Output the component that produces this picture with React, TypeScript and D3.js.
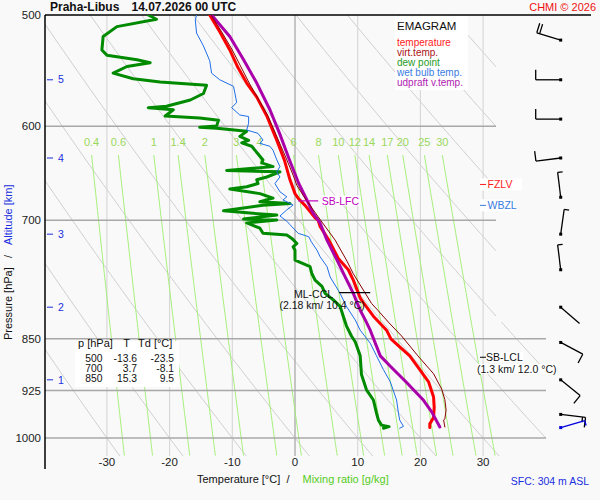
import React, { useEffect, useRef } from "react";
import * as d3 from "d3";

// ---------- data ----------
const tempP = [500, 514, 529.5, 545, 559, 572, 590, 614, 634, 655, 670, 675, 683, 690, 697, 700, 707, 723, 745, 759, 772, 795, 801, 819, 838, 850, 858, 874, 894, 912, 935, 951, 967, 977, 983];
const tempT = [-13.6, -12.0, -10.4, -9.1, -7.7, -6.1, -4.5, -2.9, -1.7, -0.8, 0.0, 0.5, 1.6, 2.4, 3.2, 3.7, 4.0, 5.4, 6.9, 8.5, 9.3, 10.4, 10.9, 12.5, 14.6, 15.3, 16.3, 18.3, 19.9, 21.3, 22.1, 22.2, 22.1, 21.5, 21.5];

const virtP = [500, 514, 529.5, 559, 590, 634, 650, 661, 672, 686, 700, 723, 747, 764, 802, 811, 828, 846, 874, 900, 923, 939, 955, 969, 971, 982];
const virtT = [-13.4, -11.7, -10.0, -7.3, -4.3, -1.3, -0.3, 0.3, 1.3, 2.7, 4.1, 6.4, 8.2, 9.3, 12.2, 13.2, 15.0, 17.0, 19.6, 22.1, 23.4, 23.9, 24.1, 23.9, 23.7, 23.9];

const parcelP = [500, 518, 538, 559, 584, 608, 632, 659, 677, 692, 703, 723, 747, 768, 789, 811, 824, 838, 874, 889, 913, 940, 958, 982];
const parcelT = [-13.3, -10.4, -8.2, -6.1, -4.0, -2.4, -1.0, 0.6, 1.9, 2.9, 4.0, 5.1, 6.7, 8.0, 9.3, 10.4, 11.2, 12.0, 13.6, 15.2, 17.8, 20.5, 21.8, 23.1];

const dewP = [500, 503.5, 509.6, 518, 529.5, 534, 538, 540.6, 544, 550, 555, 558, 561, 568.6, 574.7, 580.7, 582, 584, 590, 592, 594, 599.6, 601, 602, 605, 610, 614, 616.5, 620, 634, 637, 641, 645, 646.5, 652, 655, 659, 662.5, 665, 670, 675, 679, 681, 683, 689, 692, 694, 698.5, 699.5, 703, 709, 715, 717, 721, 727, 731, 735, 747, 755, 764, 772, 780, 789, 797.5, 806, 819, 832, 846, 854, 874, 901, 924, 939.5, 960, 971, 979, 981.5, 984];
const dewT = [-23.4, -22.1, -28.4, -30.6, -30.8, -30.0, -25.2, -23.1, -26.8, -29.0, -25.8, -21.5, -14.1, -14.6, -16.7, -20.5, -23.4, -19.4, -20.7, -15.2, -12.2, -12.5, -15.2, -12.5, -7.7, -8.8, -7.4, -8.5, -6.9, -5.1, -5.3, -3.5, -10.9, -2.4, -4.5, -6.1, -5.9, -7.7, -10.4, -5.6, -3.5, -5.6, -0.8, -5.1, -11.4, -6.7, -2.9, -8.2, -2.9, -7.7, -5.6, -5.1, -1.3, -0.5, 0.3, -0.3, 0.0, 0.0, 2.4, 2.7, 3.2, 4.3, 4.8, 6.1, 7.2, 7.7, 8.2, 9.0, 9.6, 10.4, 10.6, 11.4, 12.5, 13.0, 13.3, 13.8, 15.0, 14.1];

const wetP = [500, 504, 515, 526, 539, 550, 556, 562, 577, 582, 589, 590.5, 597, 603.7, 607, 613.7, 617, 620, 624, 634, 641, 646.5, 652, 659, 668, 673.5, 677, 682.6, 688, 695, 701, 705, 715, 719, 725, 735, 743, 755, 768, 789, 806, 824, 838, 856, 874, 894, 912, 939.5, 960, 971, 981, 984];
const wetT = [-15.7, -15.9, -15.7, -14.6, -13.6, -13.3, -12.0, -9.8, -9.3, -10.1, -8.8, -7.4, -7.4, -7.7, -5.9, -5.1, -5.6, -4.0, -3.5, -2.9, -2.4, -2.9, -2.4, -3.2, -2.4, -1.3, -1.9, -0.3, -1.3, -2.4, -1.3, -0.8, 0.5, 2.2, 2.6, 3.5, 4.0, 5.1, 5.6, 7.2, 8.2, 9.6, 10.4, 12.0, 13.0, 14.1, 15.2, 16.2, 16.5, 16.7, 17.3, 16.7];

const isobars = [500, 600, 700, 850, 925, 1000];
const isotherms = [-30, -20, -10, 0, 10, 20, 30];
const mixRatios = [0.4, 0.6, 1, 1.4, 2, 3, 4, 6, 8, 10, 12, 14, 17, 20, 25, 30];
const thetaC = [-30, -20, -10, 0, 10, 20, 30, 40, 50, 60, 70, 80, 90];
const altKm = [1, 2, 3, 4, 5];
const altP = [909, 807, 716, 632, 556];

const windP = [521, 556, 593, 632, 674, 716, 759, 807, 855, 909, 962];
const windDir = [287, 270, 270, 263, 353, 8, 353, 131, 118, 129, 97];
const windSpd = [20, 10, 10, 10, 5, 5, 5, 2, 10, 10, 15];
const sfcWindP = 983;
const sfcWindDir = 74;
const sfcWindSpd = 5;

const tableP = ["500", "700", "850"];
const tableT = ["-13.6", "3.7", "15.3"];
const tableTd = ["-23.5", "-8.1", "9.5"];

const legendNames = ["temperature", "virt.temp.", "dew point", "wet bulb temp.", "udpraft v.temp."];
const legendColors = ["#ff1a1a", "#aa1111", "#1f9a1f", "#3a7be0", "#b021b0"];

const fzlvP = 660;
const wbzlP = 683;
const lfcP = 678;
const lfcLineT = [0.5, 3.7];
const cclP = 788;
const cclLineT = [7.0, 12.0];
const lclP = 876;

const FONT = "'Liberation Sans', Arial, Helvetica, sans-serif";

export default function App() {
  const ref = useRef<SVGSVGElement>(null);

  useEffect(() => {
    const svg = d3.select(ref.current);
    svg.selectAll("*").remove();

    const x = d3.scaleLinear().domain([-40, 32]).range([44.2, 495.64]);
    const y = d3.scaleLog().domain([500, 1030]).range([15, 456.1]);
    const yBot = y(1030);

    svg.append("rect").attr("width", 600).attr("height", 500).attr("fill", "#f9f9f9");

    const defs = svg.append("defs");
    defs.append("clipPath").attr("id", "adiClip").append("polygon")
      .attr("points", `45,15 496,15 496,322 546,322 546,${yBot} 45,${yBot}`);
    defs.append("clipPath").attr("id", "plotClip").append("rect")
      .attr("x", 45).attr("y", 15).attr("width", 501).attr("height", yBot - 15);

    const txt = (
      g: any, s: string, tx: number, ty: number, size: number, color: string,
      anchor = "start", weight = "normal"
    ) =>
      g.append("text").attr("x", tx).attr("y", ty).attr("dy", "0.35em")
        .attr("font-family", FONT).attr("font-size", size).attr("fill", color)
        .attr("text-anchor", anchor).attr("font-weight", weight).text(s);

    const bgBox = (t: any, padX = 1, padY = 0) => {
      const b = (t.node() as SVGTextElement).getBBox();
      svg.insert("rect", () => t.node())
        .attr("x", b.x - padX).attr("y", b.y - padY)
        .attr("width", b.width + 2 * padX).attr("height", b.height + 2 * padY)
        .attr("fill", "#ffffff");
    };

    // ---- dry adiabats ----
    const pSteps = d3.range(500, 1031, 5);
    const line = d3.line<{ p: number; t: number }>().x((d) => x(d.t)).y((d) => y(d.p));
    const gAdi = svg.append("g").attr("clip-path", "url(#adiClip)");
    thetaC.forEach((th) => {
      const pts = pSteps.map((p) => ({ p, t: (th + 273.15) * Math.pow(p / 1000, 0.2857) - 273.15 }));
      gAdi.append("path").attr("d", line(pts)).attr("fill", "none")
        .attr("stroke", "#cfcfcf").attr("stroke-width", 1);
    });

    // ---- isotherms ----
    isotherms.forEach((t) => {
      svg.append("line").attr("x1", x(t)).attr("x2", x(t)).attr("y1", 15).attr("y2", yBot)
        .attr("stroke", t === 0 ? "#a9a9a9" : "#d6d6d6").attr("stroke-width", t === 0 ? 1.3 : 1.1);
    });

    // ---- mixing ratio lines ----
    const tFromW = (w: number, p: number) => {
      const e = (w * p) / (622 + w);
      const l = Math.log(e / 6.112);
      return (243.5 * l) / (17.67 - l);
    };
    const mixTop = 629;
    const mSteps = d3.range(mixTop, 1031, 5);
    const gMix = svg.append("g").attr("clip-path", "url(#plotClip)");
    mixRatios.forEach((w) => {
      const pts = mSteps.map((p) => ({ p, t: tFromW(w, p) }));
      gMix.append("path").attr("d", line(pts)).attr("fill", "none")
        .attr("stroke", "#a6f07a").attr("stroke-width", 1);
      txt(svg, String(w), x(tFromW(w, mixTop)), 142, 11, "#9ad85a", "middle");
    });

    // ---- isobars ----
    isobars.forEach((p) => {
      if (p === 500) return;
      svg.append("line").attr("x1", 45).attr("x2", p >= 850 ? 546 : 496)
        .attr("y1", y(p)).attr("y2", y(p))
        .attr("stroke", "#a8a8a8").attr("stroke-width", 1.5);
    });
    // top line and left axis
    svg.append("line").attr("x1", 45).attr("x2", 591).attr("y1", y(500)).attr("y2", y(500))
      .attr("stroke", "#000").attr("stroke-width", 1.5);
    svg.append("line").attr("x1", 45).attr("x2", 45).attr("y1", 15).attr("y2", 469)
      .attr("stroke", "#000").attr("stroke-width", 1.5);

    // pressure labels
    isobars.forEach((p) => txt(svg, String(p), 41, y(p), 11.5, "#222", "end"));
    // temperature labels
    isotherms.forEach((t) => txt(svg, String(t), x(t), 462, 11.5, "#222", "middle"));
    // altitude ticks
    altKm.forEach((a, i) => {
      svg.append("line").attr("x1", 47).attr("x2", 53).attr("y1", y(altP[i])).attr("y2", y(altP[i]))
        .attr("stroke", "#1a2fe0").attr("stroke-width", 1);
      txt(svg, String(a), 58, y(altP[i]), 10.5, "#1a2fe0", "start");
    });

    // ---- profiles ----
    const gProf = svg.append("g").attr("clip-path", "url(#plotClip)");
    const drawProfile = (ps: number[], ts: number[], color: string, w: number) => {
      const pts = ps.map((p, i) => ({ p, t: ts[i] }));
      gProf.append("path").attr("d", line(pts)).attr("fill", "none")
        .attr("stroke", color).attr("stroke-width", w)
        .attr("stroke-linejoin", "round").attr("stroke-linecap", "round");
    };
    drawProfile(dewP, dewT, "#008a00", 3);
    drawProfile(wetP, wetT, "#1f6fe8", 1);
    drawProfile(tempP, tempT, "#ff0000", 3);
    drawProfile(parcelP, parcelT, "#aa00aa", 3);
    drawProfile(virtP, virtT, "#8b0000", 1);

    // ---- markers ----
    // SB-LFC
    svg.append("line").attr("x1", x(lfcLineT[0])).attr("x2", x(lfcLineT[1]))
      .attr("y1", y(lfcP)).attr("y2", y(lfcP)).attr("stroke", "#c000c0").attr("stroke-width", 1.2);
    const lfcT = txt(svg, "SB-LFC", x(lfcLineT[1]) + 3.5, y(lfcP), 10.5, "#c000c0");
    bgBox(lfcT, 1, -1);

    // ML-CCL
    svg.append("line").attr("x1", x(cclLineT[0])).attr("x2", x(cclLineT[1]))
      .attr("y1", y(cclP)).attr("y2", y(cclP)).attr("stroke", "#000").attr("stroke-width", 1.2);
    txt(svg, "ML-CCL", 294, y(cclP) + 1.5, 10.5, "#111");
    txt(svg, "(2.18 km/ 10.4 °C)", 279.5, y(cclP) + 12.5, 10.5, "#111");

    // SB-LCL
    const yl = y(lclP);
    const l1 = txt(svg, "SB-LCL", 486, yl, 10.5, "#111");
    bgBox(l1, 0.5, -1);
    const l2 = txt(svg, "(1.3 km/ 12.0 °C)", 477, yl + 12, 10.5, "#111");
    bgBox(l2, 0.5, -1);
    svg.append("line").attr("x1", 480).attr("x2", 486).attr("y1", yl).attr("y2", yl)
      .attr("stroke", "#000").attr("stroke-width", 1);

    // FZLV / WBZL
    [[fzlvP, "FZLV", "#ff1a1a", 522], [wbzlP, "WBZL", "#3a7be0", 514]].forEach(([p, s, c, r]: any) => {
      const yy = y(p);
      svg.append("rect").attr("x", 480).attr("y", yy - 6).attr("width", r - 480).attr("height", 12)
        .attr("fill", "#fff");
      svg.append("line").attr("x1", 480).attr("x2", 486).attr("y1", yy).attr("y2", yy)
        .attr("stroke", c).attr("stroke-width", 1);
      txt(svg, s, 487.5, yy, 10.5, c);
    });

    // ---- legend ----
    svg.append("rect").attr("x", 395).attr("y", 16).attr("width", 73).attr("height", 74).attr("fill", "#fff");
    txt(svg, "EMAGRAM", 397, 26, 11.5, "#111");
    legendNames.forEach((n, i) => txt(svg, n, 397, 42 + i * 10, 10, legendColors[i]));

    // ---- table ----
    svg.append("rect").attr("x", 75).attr("y", 341).attr("width", 104).attr("height", 46).attr("fill", "#fff");
    txt(svg, "p [hPa]", 78, 343.5, 11, "#111");
    txt(svg, "T", 126.7, 343.5, 11, "#111", "middle");
    txt(svg, "Td [°C]", 138, 343.5, 11, "#111");
    tableP.forEach((p, i) => {
      const yy = 358 + i * 10.3;
      txt(svg, p, 102.5, yy, 10.3, "#111", "end");
      txt(svg, tableT[i], 137, yy, 10.3, "#111", "end");
      txt(svg, tableTd[i], 174, yy, 10.3, "#111", "end");
    });

    // ---- wind barbs ----
    const bx = 560.7;
    const drawBarb = (p: number, dir: number, spd: number, color: string) => {
      const y0 = y(p);
      const L = 25;
      const r = (dir * Math.PI) / 180;
      const ux = Math.sin(r), uy = -Math.cos(r);
      const px = -uy, py = ux;
      const tx = bx + L * ux, ty = y0 + L * uy;
      const g = svg.append("g").attr("stroke", color).attr("stroke-width", 1.3).attr("fill", "none");
      g.append("line").attr("x1", bx).attr("y1", y0).attr("x2", tx).attr("y2", ty);
      let rem = Math.round(spd / 5) * 5;
      let pos = 0;
      while (rem >= 10) {
        const sx = tx - pos * ux, sy = ty - pos * uy;
        g.append("line").attr("x1", sx).attr("y1", sy).attr("x2", sx + 10 * px).attr("y2", sy + 10 * py);
        pos += 3;
        rem -= 10;
      }
      if (rem >= 5) {
        const sx = tx - pos * ux, sy = ty - pos * uy;
        g.append("line").attr("x1", sx).attr("y1", sy).attr("x2", sx + 5 * px).attr("y2", sy + 5 * py);
      }
      svg.append("rect").attr("x", bx - 1.5).attr("y", y0 - 1.5).attr("width", 3).attr("height", 3).attr("fill", color);
    };
    windP.forEach((p, i) => drawBarb(p, windDir[i], windSpd[i], "#000"));
    drawBarb(sfcWindP, sfcWindDir, sfcWindSpd, "#0000dd");

    // ---- titles ----
    txt(svg, "Praha-Libus", 50, 7, 12, "#111", "start", "bold");
    txt(svg, "14.07.2026 00 UTC", 131.5, 7, 12, "#111", "start", "bold");
    txt(svg, "CHMI © 2026", 596, 7, 11, "#ee1111", "end");

    const xt = svg.append("text").attr("y", 479.5).attr("dy", "0.35em")
      .attr("font-family", FONT).attr("font-size", 11);
    xt.append("tspan").attr("x", 197).attr("fill", "#111").text("Temperature [°C]");
    xt.append("tspan").attr("x", 286.5).attr("fill", "#111").text("/");
    xt.append("tspan").attr("x", 302.5).attr("fill", "#55cc22").text("Mixing ratio [g/kg]");

    const yt = svg.append("text").attr("transform", "translate(12,340) rotate(-90)")
      .attr("font-family", FONT).attr("font-size", 11);
    yt.append("tspan").attr("x", 0).attr("fill", "#111").text("Pressure [hPa]");
    yt.append("tspan").attr("x", 82).attr("fill", "#111").text("/");
    yt.append("tspan").attr("x", 95).attr("fill", "#1a2fe0").text("Altitude [km]");

    txt(svg, "SFC: 304 m ASL", 589, 481.5, 10.5, "#1a2fe0", "end");
  }, []);

  return (
    <svg
      ref={ref}
      width={600}
      height={500}
      style={{ position: "absolute", left: 0, top: 0, display: "block" }}
    />
  );
}
